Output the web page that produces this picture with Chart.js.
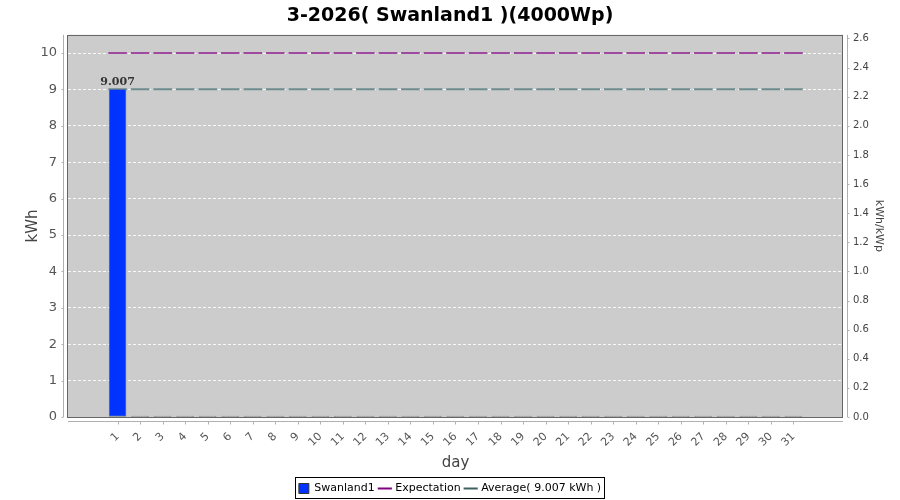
<!DOCTYPE html>
<html>
<head>
<meta charset="utf-8">
<script src="https://cdn.jsdelivr.net/npm/chart.js@4/dist/chart.umd.min.js"></script>
<style>
html,body{margin:0;padding:0;background:#fff;}
#wrap{width:900px;height:500px;position:relative;}
</style>
</head>
<body>
<div id="wrap"><canvas id="c" width="900" height="500"></canvas></div>
<script>
const chartTitle = '3-2026( Swanland1 )(4000Wp)';
const days = [1,2,3,4,5,6,7,8,9,10,11,12,13,14,15,16,17,18,19,20,21,22,23,24,25,26,27,28,29,30,31];
const production = [9.007,0,0,0,0,0,0,0,0,0,0,0,0,0,0,0,0,0,0,0,0,0,0,0,0,0,0,0,0,0,0];
const expectation = [10,10,10,10,10,10,10,10,10,10,10,10,10,10,10,10,10,10,10,10,10,10,10,10,10,10,10,10,10,10,10];
const average = [9.007,9.007,9.007,9.007,9.007,9.007,9.007,9.007,9.007,9.007,9.007,9.007,9.007,9.007,9.007,9.007,9.007,9.007,9.007,9.007,9.007,9.007,9.007,9.007,9.007,9.007,9.007,9.007,9.007,9.007,9.007];
const leftTicks = [0,1,2,3,4,5,6,7,8,9,10];
const rightTicks = [0.0,0.2,0.4,0.6,0.8,1.0,1.2,1.4,1.6,1.8,2.0,2.2,2.4,2.6];
const seriesNames = ['Swanland1','Expectation','Average( 9.007 kWh )'];
const peakPower = 4; // kWp
const leftMax = 10.5;

const BLUE = '#0033ff';
const PURPLE = '#9e4a9e';
const TEAL = '#6f8c8c';
const FONT = '"DejaVu Sans", sans-serif';

const toXY = arr => arr.map((v,i) => ({x: days[i], y: v}));

const decor = {
  id: 'decor',
  beforeDraw(chart) {
    const {ctx, chartArea: a} = chart;
    ctx.save();
    ctx.fillStyle = '#cccccc';
    ctx.fillRect(a.left, a.top, a.right - a.left, a.bottom - a.top);
    ctx.restore();
  },
  afterDraw(chart) {
    const {ctx, chartArea: a, scales} = chart;
    ctx.save();
    ctx.strokeStyle = '#666666';
    ctx.lineWidth = 1;
    ctx.strokeRect(Math.round(a.left) - 0.5, Math.round(a.top) + 0.5, Math.round(a.right - a.left), Math.round(a.bottom - a.top));
    ctx.strokeStyle = '#b0b0b0';
    ctx.beginPath();
    const lx = Math.round(a.left) - 4.5;
    ctx.moveTo(lx, a.top); ctx.lineTo(lx, a.bottom);
    leftTicks.forEach(t => { const y = Math.round(scales.y.getPixelForValue(t)) + 0.5; ctx.moveTo(lx, y); ctx.lineTo(lx - 2, y); });
    const rx = Math.round(a.right) + 4.5;
    ctx.moveTo(rx, a.top); ctx.lineTo(rx, a.bottom);
    rightTicks.forEach(t => { const y = Math.round(scales.y2.getPixelForValue(t)) + 0.5; ctx.moveTo(rx, y); ctx.lineTo(rx + 2, y); });
    const by = Math.round(a.bottom) + 4.5;
    ctx.moveTo(a.left, by); ctx.lineTo(a.right, by);
    days.forEach(d => { const x = Math.round(scales.x.getPixelForValue(d)) + 0.5; ctx.moveTo(x, by); ctx.lineTo(x, by + 3); });
    ctx.stroke();
    const lg = chart.legend;
    if (lg && lg.legendHitBoxes && lg.legendHitBoxes.length) {
      let l = Infinity, r = -Infinity, t = Infinity, b = -Infinity;
      lg.legendHitBoxes.forEach(h => { l = Math.min(l, h.left); r = Math.max(r, h.left + h.width); t = Math.min(t, h.top); b = Math.max(b, h.top + h.height); });
      ctx.strokeStyle = '#000';
      ctx.strokeRect(Math.round(l) - 3.5, Math.round(t) - 5.5, Math.round(r - l) + 7, Math.round(b - t) + 10);
    }
    ctx.restore();
  },
  afterDatasetsDraw(chart) {
    const {ctx} = chart;
    const meta = chart.getDatasetMeta(0);
    ctx.save();
    ctx.font = 'bold 11px "DejaVu Serif", serif';
    ctx.fillStyle = '#333';
    ctx.textAlign = 'center';
    ctx.textBaseline = 'bottom';
    meta.data.forEach((el, i) => {
      const v = production[i];
      if (v > 0) ctx.fillText(v.toFixed(3), el.x, el.y - 2);
    });
    ctx.restore();
  }
};

new Chart(document.getElementById('c'), {
  data: {
    datasets: [
      {
        type: 'bar', label: seriesNames[0], data: toXY(production), yAxisID: 'y',
        backgroundColor: ctx => (ctx.raw && ctx.raw.y > 0) ? BLUE : '#8a8a8a',
        borderColor: '#6d7b8d', borderWidth: 1, borderSkipped: false,
        barThickness: 17, minBarLength: 1
      },
      {
        type: 'line', label: seriesNames[1], data: toXY(expectation), yAxisID: 'y',
        showLine: false, pointStyle: 'line', pointRadius: 9.3, pointHoverRadius: 9.3,
        pointBorderWidth: 2, borderColor: PURPLE, backgroundColor: PURPLE
      },
      {
        type: 'line', label: seriesNames[2], data: toXY(average), yAxisID: 'y',
        showLine: false, pointStyle: 'line', pointRadius: 9.3, pointHoverRadius: 9.3,
        pointBorderWidth: 2, borderColor: TEAL, backgroundColor: TEAL
      }
    ]
  },
  options: {
    responsive: false,
    animation: false,
    events: [],
    layout: {padding: {top: 0, left: 0, right: 0, bottom: -4}},
    plugins: {
      tooltip: {enabled: false},
      title: {
        display: true, text: chartTitle, color: '#000',
        font: {family: FONT, size: 19, weight: 'bold', lineHeight: 1.2},
        padding: {top: 5, bottom: 7}
      },
      legend: {
        display: true, position: 'bottom',
        labels: {
          usePointStyle: true, boxWidth: 10, boxHeight: 10, padding: 5,
          color: '#333', font: {family: FONT, size: 11},
          generateLabels: chart => [
            {text: seriesNames[0], pointStyle: 'rect', fillStyle: BLUE, strokeStyle: '#333', lineWidth: 1, datasetIndex: 0},
            {text: seriesNames[1], pointStyle: 'line', fillStyle: PURPLE, strokeStyle: '#800080', lineWidth: 2, datasetIndex: 1},
            {text: seriesNames[2], pointStyle: 'line', fillStyle: TEAL, strokeStyle: '#406060', lineWidth: 2, datasetIndex: 2}
          ]
        }
      }
    },
    scales: {
      x: {
        type: 'linear', position: 'bottom', offset: false,
        min: days[0] - 2.2, max: days[days.length - 1] + 2.2,
        afterBuildTicks: s => { s.ticks = days.map(d => ({value: d})); },
        afterFit: s => { s.height = 61; },
        grid: {display: false, drawTicks: false, offset: false},
        border: {display: false},
        ticks: {
          autoSkip: false, minRotation: 45, maxRotation: 45, padding: 13,
          color: '#555', font: {family: FONT, size: 11},
          callback: v => String(v)
        },
        title: {display: true, text: 'day', color: '#444', font: {family: FONT, size: 15}, padding: {top: 0, bottom: 6}}
      },
      y: {
        type: 'linear', position: 'left', min: 0, max: leftMax,
        afterBuildTicks: s => { s.ticks = leftTicks.map(v => ({value: v})); },
        afterFit: s => { s.width = 68; },
        grid: {color: 'rgba(255,255,255,0.9)', lineWidth: 1, drawTicks: false},
        border: {display: false, dash: [3, 2]},
        ticks: {padding: 11, color: '#555', font: {family: FONT, size: 13}, callback: v => String(v)},
        title: {display: true, text: 'kWh', color: '#444', font: {family: FONT, size: 15}, padding: {top: 24, bottom: 0}}
      },
      y2: {
        type: 'linear', position: 'right', min: 0, max: leftMax / peakPower,
        afterBuildTicks: s => { s.ticks = rightTicks.map(v => ({value: v})); },
        afterFit: s => { s.width = 57; },
        grid: {drawOnChartArea: false, drawTicks: false},
        border: {display: false},
        ticks: {padding: 10, color: '#444', font: {family: FONT, size: 10}, callback: v => Number(v).toFixed(1)},
        title: {display: true, text: 'kWh/kWp', color: '#444', font: {family: FONT, size: 11}, padding: {top: 15, bottom: 0}}
      }
    }
  },
  plugins: [decor]
});
</script>
</body>
</html>
